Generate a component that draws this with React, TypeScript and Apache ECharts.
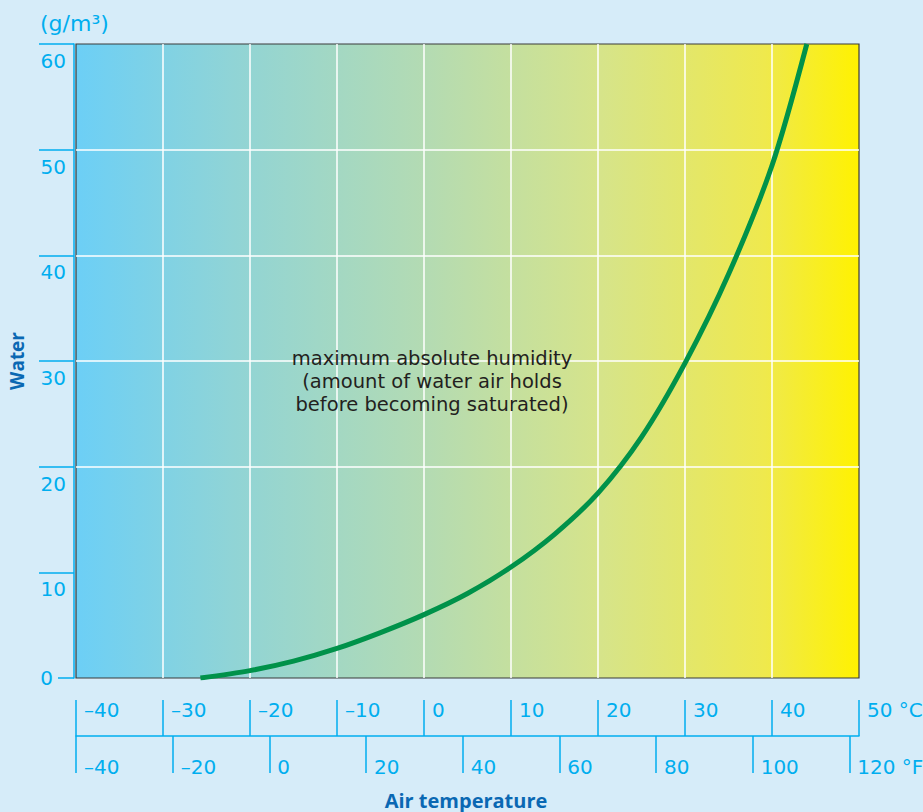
import React, { useEffect, useRef } from "react";
import * as echarts from "echarts";

// Saturation curve
const temperatureC = [-25.7, -20, -15, -10, -5, 0, 5, 10, 15, 20, 25, 30, 35, 40, 44];
const waterGrams = [0, 0.7, 1.6, 2.8, 4.3, 6.0, 8.0, 10.5, 13.6, 17.5, 22.8, 29.8, 38.2, 48.5, 60];

// Tick labels
const celsiusTicks = [-40, -30, -20, -10, 0, 10, 20, 30, 40, 50];
const fahrenheitTicks = [-40, -20, 0, 20, 40, 60, 80, 100, 120];
const waterTicks = [10, 20, 30, 40, 50, 60];
const zeroTick = [0];

const CYAN = "#00aeef";
const DARK_BLUE = "#0a68b3";
const NUM_FONT = "DejaVu Sans";
const BOLD_FONT = "Open Sans";

const fmtNum = (v: number) => (v < 0 ? "\u2013" + Math.abs(v) : String(v));

export default function App() {
  const ref = useRef<HTMLDivElement>(null);

  useEffect(() => {
    if (!ref.current) return;
    const chart = echarts.init(ref.current, undefined, { renderer: "svg" });
    const option: any = {
      animation: false,
      backgroundColor: "#d6ecf9",
      textStyle: { fontFamily: NUM_FONT },
      grid: {
        left: 76,
        right: 64,
        top: 44,
        bottom: 134,
        show: true,
        containLabel: false,
        outerBoundsMode: "none",
        borderColor: "#3a3a3a",
        borderWidth: 1.2,
        backgroundColor: new echarts.graphic.LinearGradient(0, 0, 1, 0, [
          { offset: 0, color: "#6ccff6" },
          { offset: 0.2, color: "#90d4d6" },
          { offset: 0.45, color: "#b4dbb2" },
          { offset: 0.67, color: "#d6e48a" },
          { offset: 0.88, color: "#efe94d" },
          { offset: 1, color: "#fff200" },
        ]),
      },
      xAxis: [
        {
          type: "value",
          min: -40,
          max: 50,
          interval: 10,
          position: "bottom",
          offset: 58,
          axisLine: { show: true, onZero: false, lineStyle: { color: CYAN, width: 1.5 } },
          axisTick: {
            show: true,
            inside: true,
            length: 36,
            customValues: celsiusTicks,
            lineStyle: { color: CYAN, width: 1.5 },
          },
          axisLabel: {
            show: true,
            inside: true,
            margin: 26,
            customValues: celsiusTicks,
            formatter: (v: number) => (v === 50 ? "50 \u00b0C" : fmtNum(v)),
            align: "left",
            verticalAlign: "middle",
            padding: [0, 0, 0, 8],
            color: CYAN,
            fontSize: 20,
            fontFamily: NUM_FONT,
            hideOverlap: false,
          },
          splitLine: {
            show: true,
            showMinLine: false,
            showMaxLine: false,
            lineStyle: { color: "#ffffff", width: 1.5 },
          },
        },
        {
          type: "value",
          min: -40,
          max: 122,
          interval: 20,
          position: "bottom",
          offset: 58,
          axisLine: { show: false, onZero: false },
          axisTick: {
            show: true,
            inside: false,
            length: 37,
            customValues: fahrenheitTicks,
            lineStyle: { color: CYAN, width: 1.5 },
          },
          axisLabel: {
            show: true,
            margin: 31,
            customValues: fahrenheitTicks,
            formatter: (v: number) => (v === 120 ? "120 \u00b0F" : fmtNum(v)),
            align: "left",
            verticalAlign: "middle",
            padding: [0, 0, 0, 8],
            color: CYAN,
            fontSize: 20,
            fontFamily: NUM_FONT,
            hideOverlap: false,
          },
          splitLine: { show: false },
        },
      ],
      yAxis: [
        {
          type: "value",
          min: 0,
          max: 60,
          interval: 10,
          position: "left",
          offset: 2,
          axisLine: { show: true, onZero: false, lineStyle: { color: CYAN, width: 1.5 } },
          axisTick: {
            show: true,
            length: 35,
            customValues: waterTicks,
            lineStyle: { color: CYAN, width: 1.5 },
          },
          axisLabel: {
            show: true,
            margin: 8,
            customValues: waterTicks,
            verticalAlign: "top",
            padding: [7, 0, 0, 0],
            color: CYAN,
            fontSize: 20,
            fontFamily: NUM_FONT,
            hideOverlap: false,
          },
          splitLine: {
            show: true,
            showMinLine: false,
            showMaxLine: false,
            lineStyle: { color: "#ffffff", width: 1.5 },
          },
        },
        {
          type: "value",
          min: 0,
          max: 60,
          interval: 10,
          position: "left",
          offset: 2,
          axisLine: { show: false, onZero: false },
          axisTick: {
            show: true,
            length: 16,
            customValues: zeroTick,
            lineStyle: { color: CYAN, width: 1.5 },
          },
          axisLabel: {
            show: true,
            margin: 21,
            customValues: zeroTick,
            verticalAlign: "middle",
            color: CYAN,
            fontSize: 20,
            fontFamily: NUM_FONT,
          },
          splitLine: { show: false },
        },
      ],
      graphic: [
        {
          type: "text",
          x: 40,
          y: 23,
          style: {
            text: "(g/m\u00b3)",
            fill: CYAN,
            fontSize: 22,
            fontFamily: NUM_FONT,
            textVerticalAlign: "middle",
          },
        },
        {
          type: "text",
          x: 17,
          y: 361,
          rotation: Math.PI / 2,
          style: {
            text: "Water",
            fill: DARK_BLUE,
            fontSize: 19,
            fontWeight: "bold",
            fontFamily: BOLD_FONT,
            textAlign: "center",
            textVerticalAlign: "middle",
          },
        },
        {
          type: "text",
          x: 466,
          y: 800,
          style: {
            text: "Air temperature",
            fill: DARK_BLUE,
            fontSize: 20,
            fontWeight: "bold",
            fontFamily: BOLD_FONT,
            textAlign: "center",
            textVerticalAlign: "middle",
          },
        },
        {
          type: "text",
          x: 432,
          y: 381,
          z: 10,
          style: {
            text: "maximum absolute humidity\n(amount of water air holds\nbefore becoming saturated)",
            fill: "#231f20",
            fontSize: 19.5,
            lineHeight: 23,
            fontFamily: NUM_FONT,
            textAlign: "center",
            textVerticalAlign: "middle",
          },
        },
      ],
      series: [
        {
          type: "line",
          xAxisIndex: 0,
          yAxisIndex: 0,
          data: temperatureC.map((t, i) => [t, waterGrams[i]]),
          smooth: 0.3,
          symbol: "none",
          clip: true,
          lineStyle: { color: "#00924a", width: 5 },
          z: 5,
        },
      ],
    };
    chart.setOption(option);
    return () => chart.dispose();
  }, []);

  return (
    <div
      ref={ref}
      style={{ position: "absolute", left: 0, top: 0, width: 923, height: 812 }}
    />
  );
}
